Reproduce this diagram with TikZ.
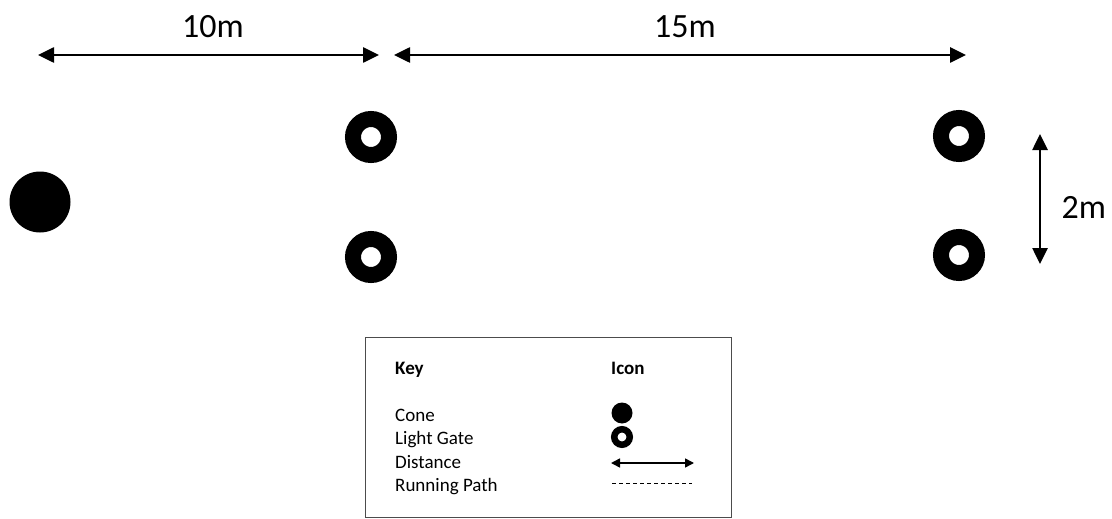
\documentclass[tikz,border=0pt]{standalone}
\usepackage{fontspec}
\setmainfont{Carlito}
\usetikzlibrary{arrows.meta}
\begin{document}
\begin{tikzpicture}[x=1pt,y=-1pt,
  cone/.style={circle,fill=black,inner sep=0pt,minimum size=#1},
  gate/.style={circle,draw=black,fill=white,inner sep=0pt,line width=16pt,minimum size=36pt},
  keygate/.style={circle,draw=black,fill=white,inner sep=0pt,line width=6.5pt,minimum size=15.5pt},
  dist/.style={line width=2.6pt,{Triangle[length=16pt,width=15pt]}-{Triangle[length=16pt,width=15pt]}},
  keydist/.style={line width=1.6pt,{Triangle[length=9pt,width=9pt]}-{Triangle[length=9pt,width=9pt]}},
  lab/.style={font=\fontsize{34}{40}\selectfont,anchor=base},
  keytxt/.style={font=\fontsize{19}{23}\selectfont,anchor=base west,inner sep=0pt},
  keyhead/.style={keytxt,font=\fontsize{19}{23}\selectfont\bfseries}]
\useasboundingbox (0,0) rectangle (1112,519);

% measurement arrows
\coordinate (a1) at (38,55);
\coordinate (a2) at (379,55);
\coordinate (b1) at (394,55);
\coordinate (b2) at (966,55);
\coordinate (c1) at (1040,134);
\coordinate (c2) at (1040,264);
\draw[dist] (a1) -- (a2);
\draw[dist] (b1) -- (b2);
\draw[dist] (c1) -- (c2);
\node[lab] (l10) at (213,38) {10m};
\node[lab] (l15) at (685,38) {15m};
\node[lab,anchor=west] (l2) at (1058,207) {2m};

% start cone and light gates
\node[cone=61pt] (cone) at (40,202) {};
\node[gate] (g1) at (371,137) {};
\node[gate] (g2) at (371,257) {};
\node[gate] (g3) at (959,136) {};
\node[gate] (g4) at (959,255) {};

% key
\node[draw=black!70,line width=1pt,minimum width=366pt,minimum height=180pt,anchor=north west] (keybox) at (365,337) {};
\node[keyhead] (kh) at (395,374) {Key};
\node[keyhead] (ih) at (611,374) {Icon};
\node[keytxt] (k1) at (395,421) {Cone};
\node[keytxt] (k2) at (395,444) {Light Gate};
\node[keytxt] (k3) at (395,468) {Distance};
\node[keytxt] (k4) at (395,491) {Running Path};
\node[cone=21pt] (i1) at (622,413) {};
\node[keygate] (i2) at (622,437) {};
\coordinate (d1) at (611,463);
\coordinate (d2) at (694,463);
\draw[keydist] (d1) -- (d2);
\coordinate (r1) at (612,483);
\coordinate (r2) at (692,483);
\draw[line width=0.8pt,dash pattern=on 4pt off 3pt] (r1) -- (r2);
\end{tikzpicture}
\end{document}
